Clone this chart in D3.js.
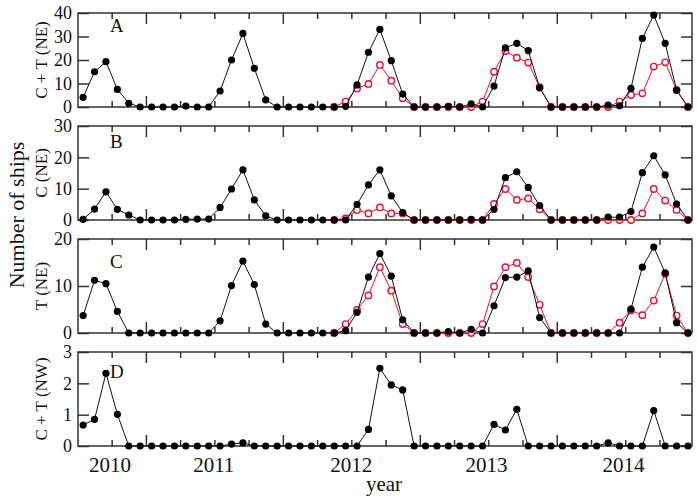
<!DOCTYPE html>
<html>
<head>
<meta charset="utf-8">
<script src="https://d3js.org/d3.v7.min.js"></script>
<style>
body { margin: 0; background: #fff; }
svg text { font-family: "Liberation Serif", "DejaVu Serif", serif; fill: #111; }
</style>
</head>
<body>
<svg id="chart" width="697" height="503"></svg>
<script>

// one point per month, 54 months
var months = d3.range(54);
// the red series starts at this month
var redStart = 22;

var blackA = [4.1, 15.0, 19.3, 7.5, 1.6, 0, 0, 0, 0, 0.4, 0, 0,
              6.8, 20.0, 31.3, 16.5, 3.0, 0, 0, 0, 0, 0, 0, 0.3,
              9.4, 23.3, 33.0, 19.7, 5.5, 0, 0, 0, 0.3, 0, 1.3, 0,
              8.9, 25.2, 27.1, 24.0, 8.2, 0, 0, 0, 0, 0, 0.8, 0.5,
              7.9, 29.2, 39.1, 27.1, 7.2, 0];
var redA = [0, 2.3, 7.9, 9.8, 17.9, 11.2, 3.7, 0, 0, 0, 0, 0, 0,
            2.3, 15.0, 23.8, 21.0, 18.9, 8.4, 0, 0, 0, 0, 0, 0,
            2.3, 5.1, 5.8, 17.2, 19.0, 7.2, 0];

var blackB = [0.2, 3.5, 9.0, 3.4, 1.6, 0, 0, 0, 0, 0.2, 0.3, 0.3,
              4.0, 9.9, 16.0, 6.4, 1.3, 0, 0, 0, 0, 0, 0, 0,
              5.0, 11.2, 16.0, 7.7, 2.4, 0, 0, 0, 0, 0, 0.2, 0,
              3.4, 13.5, 15.4, 10.4, 4.6, 0, 0, 0, 0, 0, 0.9, 0.9,
              2.7, 15.1, 20.5, 14.4, 5.1, 0];
var redB = [0, 0.5, 3.2, 2.1, 4.0, 2.1, 2.1, 0, 0, 0, 0, 0, 0, 0,
            5.1, 9.9, 6.4, 6.9, 3.4, 0, 0, 0, 0, 0, 0, 0, 0,
            2.1, 9.9, 6.2, 3.2, 0];

var blackC = [3.7, 11.2, 10.5, 4.6, 0, 0, 0, 0, 0, 0, 0, 0,
              2.6, 10.1, 15.3, 10.3, 1.9, 0, 0, 0, 0, 0, 0, 0.5,
              4.4, 11.9, 16.9, 12.1, 2.8, 0, 0, 0, 0.3, 0, 0.8, 0,
              5.8, 11.8, 11.9, 13.2, 3.3, 0, 0, 0, 0, 0, 0, 0,
              5.1, 14.0, 18.3, 12.8, 2.2, 0];
var redC = [0, 1.9, 4.9, 8.0, 14.0, 9.0, 1.9, 0, 0, 0, 0, 0, 0,
            1.9, 9.9, 14.0, 14.9, 11.9, 6.0, 0, 0, 0, 0, 0, 0,
            2.2, 4.8, 3.8, 6.9, 12.6, 3.7, 0];

var blackD = [0.67, 0.85, 2.32, 1.01, 0, 0, 0, 0, 0, 0, 0, 0,
              0, 0.06, 0.1, 0, 0, 0, 0, 0, 0, 0, 0, 0,
              0, 0.53, 2.48, 1.95, 1.79, 0, 0, 0, 0, 0, 0, 0,
              0.69, 0.51, 1.17, 0, 0, 0, 0, 0, 0, 0, 0.1, 0,
              0, 0, 1.13, 0, 0, 0];

// year labels and where they sit on the month axis
var yearLabels = ["2010", "2011", "2012", "2013", "2014"];
var yearLabelPos = [2.3, 11.4, 23.45, 35.3, 47.3];

var panels = [
    { letter: "A", title: "C + T (NE)", black: blackA, red: redA, yMax: 40, yTicks: [0, 10, 20, 30, 40] },
    { letter: "B", title: "C (NE)",     black: blackB, red: redB, yMax: 30, yTicks: [0, 10, 20, 30] },
    { letter: "C", title: "T (NE)",     black: blackC, red: redC, yMax: 20, yTicks: [0, 10, 20] },
    { letter: "D", title: "C + T (NW)", black: blackD, red: null, yMax: 3,  yTicks: [0, 1, 2, 3] }
];

// layout
var svg = d3.select("#chart");
var left = 78, right = 692;
var panelTops = [13, 126, 239, 352];
var panelHeight = 94;
var letterOffset = [{x: 110, y: 19}, {x: 110, y: 22}, {x: 110, y: 29}, {x: 110, y: 26}];
var frameColor = "#333";

var xScale = d3.scaleLinear().domain([-0.45, 53.35]).range([left, right]);

var allTicks = d3.range(2.5, 53, 3);
var majorTicks = allTicks.filter(d => (d - 5.5) % 12 === 0);
var minorTicks = allTicks.filter(d => (d - 5.5) % 12 !== 0);

function styleTicks(sel) {
    sel.select(".domain").remove();
    sel.selectAll("line").attr("stroke", frameColor).attr("stroke-width", 1.5);
}

panels.forEach(function(p, k) {
    var top = panelTops[k];
    var bottom = top + panelHeight;

    var yScale = d3.scaleLinear().domain([0, p.yMax]).range([bottom, top]);

    var g = svg.append("g").attr("class", "panel");

    // ticks on all four sides, pointing inward
    g.append("g").attr("transform", "translate(0," + bottom + ")")
        .call(d3.axisBottom(xScale).tickValues(minorTicks).tickSizeInner(-6).tickSizeOuter(0).tickFormat(""))
        .call(styleTicks);
    g.append("g").attr("transform", "translate(0," + bottom + ")")
        .call(d3.axisBottom(xScale).tickValues(majorTicks).tickSizeInner(-11).tickSizeOuter(0).tickFormat(""))
        .call(styleTicks);
    g.append("g").attr("transform", "translate(0," + top + ")")
        .call(d3.axisTop(xScale).tickValues(minorTicks).tickSizeInner(-6).tickSizeOuter(0).tickFormat(""))
        .call(styleTicks);
    g.append("g").attr("transform", "translate(0," + top + ")")
        .call(d3.axisTop(xScale).tickValues(majorTicks).tickSizeInner(-11).tickSizeOuter(0).tickFormat(""))
        .call(styleTicks);

    var yAxisL = g.append("g").attr("transform", "translate(" + left + ",0)")
        .call(d3.axisLeft(yScale).tickValues(p.yTicks).tickSizeInner(-11).tickSizeOuter(0).tickPadding(6)
            .tickFormat(d => String(d)))
        .call(styleTicks);
    yAxisL.attr("font-size", 18).attr("font-family", null);

    g.append("g").attr("transform", "translate(" + right + ",0)")
        .call(d3.axisRight(yScale).tickValues(p.yTicks).tickSizeInner(-11).tickSizeOuter(0).tickFormat(""))
        .call(styleTicks);

    // frame
    g.append("rect")
        .attr("x", left).attr("y", top)
        .attr("width", right - left).attr("height", panelHeight)
        .attr("fill", "none").attr("stroke", frameColor).attr("stroke-width", 1.5);

    var line = d3.line()
        .x(d => xScale(d[0]))
        .y(d => yScale(d[1]));

    // red series (hollow circles)
    if (p.red) {
        var redPts = p.red.map((v, i) => [redStart + i, v]);
        g.append("path").datum(redPts)
            .attr("d", line).attr("fill", "none")
            .attr("stroke", "#e8112d").attr("stroke-width", 1);
        g.selectAll(".red").data(redPts).enter().append("circle")
            .attr("class", "red")
            .attr("cx", d => xScale(d[0])).attr("cy", d => yScale(d[1]))
            .attr("r", 3.2).attr("fill", "#fff")
            .attr("stroke", "#e8112d").attr("stroke-width", 1.4);
    }

    // black series (filled circles)
    var blackPts = months.map(i => [i, p.black[i]]);
    g.append("path").datum(blackPts)
        .attr("d", line).attr("fill", "none")
        .attr("stroke", "#111").attr("stroke-width", 1);
    g.selectAll(".blk").data(blackPts).enter().append("circle")
        .attr("class", "blk")
        .attr("cx", d => xScale(d[0])).attr("cy", d => yScale(d[1]))
        .attr("r", 3.6).attr("fill", "#000");

    // panel letter
    g.append("text")
        .attr("x", letterOffset[k].x).attr("y", top + letterOffset[k].y)
        .attr("font-size", 19)
        .text(p.letter);

    // panel y title
    g.append("text")
        .attr("transform", "translate(47," + (top + panelHeight / 2) + ") rotate(-90)")
        .attr("text-anchor", "middle")
        .attr("font-size", 17)
        .text(p.title);

    // year labels under the last panel
    if (k === panels.length - 1) {
        var yr = g.append("g").attr("transform", "translate(0," + bottom + ")")
            .call(d3.axisBottom(xScale).tickValues(yearLabelPos).tickSize(0).tickPadding(11)
                .tickFormat((d, i) => yearLabels[i]));
        yr.select(".domain").remove();
        yr.attr("font-size", 21).attr("font-family", null);
    }
});

// overall axis titles
svg.append("text")
    .attr("transform", "translate(24,215) rotate(-90)")
    .attr("text-anchor", "middle")
    .attr("font-size", 22)
    .text("Number of ships");

svg.append("text")
    .attr("x", 384).attr("y", 491)
    .attr("text-anchor", "middle")
    .attr("font-size", 21)
    .text("year");

</script>
</body>
</html>
